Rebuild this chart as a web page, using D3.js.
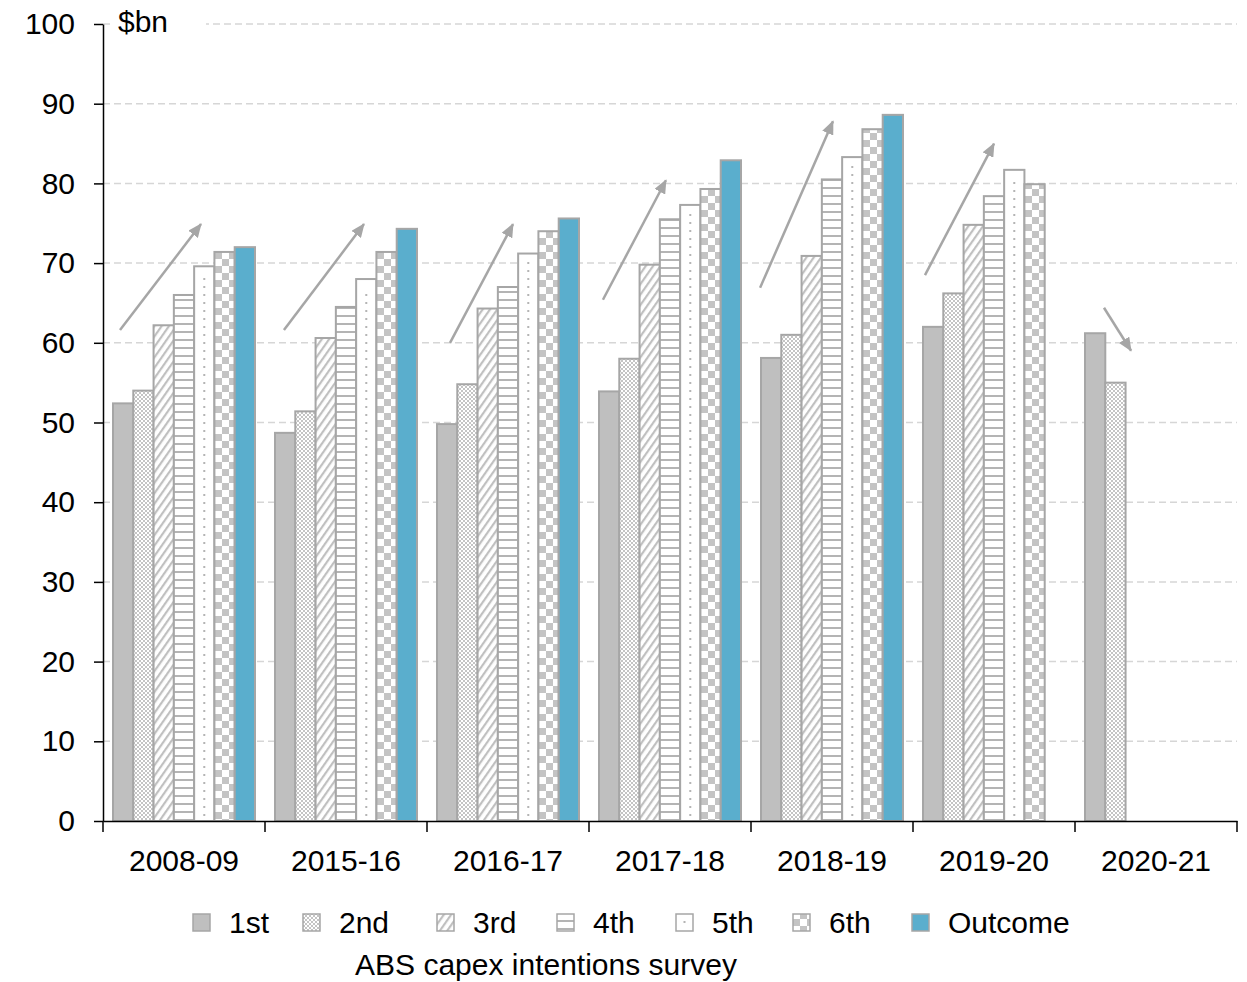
<!DOCTYPE html>
<html>
<head>
<meta charset="utf-8">
<script src="https://cdn.jsdelivr.net/npm/d3@7"></script>
<style>
  html, body { margin: 0; padding: 0; background: #fff; }
  svg { display: block; font-family: "Liberation Sans", Arial, sans-serif; }
</style>
</head>
<body>
<svg id="chart" width="1247" height="982"></svg>
<script>
// ---- Data ----
const categories = ["2008-09", "2015-16", "2016-17", "2017-18", "2018-19", "2019-20", "2020-21"];
const seriesNames = ["1st", "2nd", "3rd", "4th", "5th", "6th", "Outcome"];
const s1st     = [52.4, 48.7, 49.8, 53.9, 58.1, 62.0, 61.2];
const s2nd     = [54.0, 51.4, 54.8, 58.0, 61.0, 66.2, 55.0];
const s3rd     = [62.2, 60.6, 64.3, 69.8, 70.9, 74.8, null];
const s4th     = [66.0, 64.5, 67.0, 75.5, 80.5, 78.4, null];
const s5th     = [69.6, 68.0, 71.2, 77.3, 83.3, 81.7, null];
const s6th     = [71.4, 71.4, 74.0, 79.3, 86.8, 79.9, null];
const sOutcome = [72.0, 74.3, 75.6, 82.9, 88.6, null, null];
const yTicks = [0, 10, 20, 30, 40, 50, 60, 70, 80, 90, 100];
// Trend arrows: category, start/end position within band (fraction), start/end value
const arrowCat = ["2008-09", "2015-16", "2016-17", "2017-18", "2018-19", "2019-20", "2020-21"];
const arrowX0  = [0.105, 0.117, 0.142, 0.086, 0.056, 0.074, 0.179];
const arrowY0  = [61.6, 61.6, 60.0, 65.4, 66.9, 68.5, 64.4];
const arrowX1  = [0.605, 0.611, 0.531, 0.475, 0.506, 0.50, 0.346];
const arrowY1  = [74.9, 74.9, 74.9, 80.4, 87.8, 85.0, 59.0];
const unitLabel = "$bn";
const caption = "ABS capex intentions survey";

const seriesValues = [s1st, s2nd, s3rd, s4th, s5th, s6th, sOutcome];

// ---- Setup ----
const svg = d3.select("#chart");
const mLeft = 103, mRight = 1237, mTop = 24, mBottom = 821;
const x = d3.scaleBand().domain(categories).range([mLeft, mRight]).paddingInner(0).paddingOuter(0);
const xs = d3.scaleBand().domain(seriesNames).range([10, x.bandwidth() - 10]).padding(0);
const y = d3.scaleLinear().domain([0, 100]).range([mBottom, mTop]);

const GRAY = "#a6a6a6";
const defs = svg.append("defs");

// Patterns
function pat(id, w, h, build, transform) {
  const p = defs.append("pattern").attr("id", id).attr("patternUnits", "userSpaceOnUse")
    .attr("width", w).attr("height", h);
  if (transform) p.attr("patternTransform", transform);
  p.append("rect").attr("width", w).attr("height", h).attr("fill", "#fff");
  build(p);
}
pat("p2", 4, 4, p => {
  p.append("rect").attr("x", 0).attr("y", 0).attr("width", 2).attr("height", 2).attr("fill", "#c4c4c4");
  p.append("rect").attr("x", 2).attr("y", 2).attr("width", 2).attr("height", 2).attr("fill", "#c4c4c4");
});
pat("p3", 6, 6, p => {
  p.append("rect").attr("x", 0).attr("y", 0).attr("width", 2.2).attr("height", 6).attr("fill", "#c0c0c0");
}, "rotate(35)");
pat("p4", 10, 8, p => {
  p.append("rect").attr("x", 0).attr("y", 3).attr("width", 10).attr("height", 2).attr("fill", "#b4b4b4");
});
pat("p6", 14, 14, p => {
  p.append("rect").attr("x", 0).attr("y", 0).attr("width", 7).attr("height", 7).attr("fill", "#c4c4c4");
  p.append("rect").attr("x", 7).attr("y", 7).attr("width", 7).attr("height", 7).attr("fill", "#c4c4c4");
});
const fills = ["#bfbfbf", "url(#p2)", "url(#p3)", "url(#p4)", "#fff", "url(#p6)", "#5aaecd"];

// Gridlines
svg.append("g").selectAll("line").data(yTicks.filter(d => d > 0)).join("line")
  .attr("x1", mLeft).attr("x2", mRight)
  .attr("y1", d => y(d)).attr("y2", d => y(d))
  .attr("stroke", "#d6d6d6").attr("stroke-width", 1.5).attr("stroke-dasharray", "7,4");

// Bars
const groups = svg.append("g").selectAll("g").data(categories).join("g")
  .attr("transform", d => `translate(${x(d)},0)`);
groups.each(function(cat, ci) {
  const g = d3.select(this);
  seriesNames.forEach((s, si) => {
    const v = seriesValues[si][ci];
    if (v == null) return;
    const xx = xs(s);
    g.append("rect").attr("x", xx).attr("y", y(v)).attr("width", xs.bandwidth())
      .attr("height", y(0) - y(v)).attr("fill", fills[si])
      .attr("stroke", GRAY).attr("stroke-width", 2);
    if (si === 4) {
      // dotted pattern: a column of small dots mid-bar
      const n = Math.floor((y(0) - y(v) - 6) / 8);
      g.append("g").selectAll("rect").data(d3.range(n)).join("rect")
        .attr("x", xx + xs.bandwidth() / 2 - 1).attr("y", d => y(0) - 7 - d * 8)
        .attr("width", 2).attr("height", 2).attr("fill", "#b4b4b4");
    }
  });
});

// Arrows
defs.append("marker").attr("id", "arrow").attr("markerUnits", "userSpaceOnUse")
  .attr("viewBox", "0 0 14 12").attr("refX", 13).attr("refY", 6)
  .attr("markerWidth", 14).attr("markerHeight", 12).attr("orient", "auto")
  .append("path").attr("d", "M0,0 L14,6 L0,12 Z").attr("fill", GRAY);
svg.append("g").selectAll("line").data(arrowCat).join("line")
  .attr("x1", (d, i) => x(d) + arrowX0[i] * x.bandwidth())
  .attr("y1", (d, i) => y(arrowY0[i]))
  .attr("x2", (d, i) => x(d) + arrowX1[i] * x.bandwidth())
  .attr("y2", (d, i) => y(arrowY1[i]))
  .attr("stroke", GRAY).attr("stroke-width", 2.5)
  .attr("marker-end", "url(#arrow)");

// Y axis
const yAxis = svg.append("g").attr("transform", `translate(${mLeft},0)`)
  .call(d3.axisLeft(y).tickValues(yTicks).tickSize(9).tickPadding(19).tickSizeOuter(0));
yAxis.select(".domain").attr("stroke", "#000").attr("stroke-width", 1.5);
yAxis.selectAll(".tick line").attr("stroke", "#000").attr("stroke-width", 1.5);
yAxis.selectAll("text").attr("font-size", 30).attr("fill", "#000")
  .attr("font-family", "Liberation Sans, Arial, sans-serif");

// X axis line + ticks at band boundaries
const xAxis = svg.append("g").attr("transform", `translate(0,${mBottom})`)
  .call(d3.axisBottom(x).tickSize(0).tickPadding(40).tickSizeOuter(0));
xAxis.select(".domain").attr("stroke", "#000").attr("stroke-width", 1.5);
xAxis.selectAll("text").attr("font-size", 30).attr("fill", "#000")
  .attr("font-family", "Liberation Sans, Arial, sans-serif").attr("dy", "0.32em");
const bounds = categories.map(c => x(c)).concat([x(categories[categories.length - 1]) + x.bandwidth()]);
xAxis.append("g").selectAll("line").data(bounds).join("line")
  .attr("x1", d => d).attr("x2", d => d).attr("y1", 0).attr("y2", 11)
  .attr("stroke", "#000").attr("stroke-width", 1.5);

// Unit label with white background
svg.append("rect").attr("x", 111).attr("y", 8).attr("width", 95).attr("height", 34).attr("fill", "#fff");
svg.append("text").attr("x", 118).attr("y", 32).attr("font-size", 30).attr("fill", "#000").text(unitLabel);

// Legend (item positions as in the reference layout)
const legendX = [193, 303, 437, 557, 676, 793, 912];
const legend = svg.append("g");
const items = legend.selectAll("g").data(seriesNames).join("g")
  .attr("transform", (d, i) => `translate(${legendX[i]},933)`);
items.append("rect").attr("x", 0).attr("y", -19).attr("width", 17).attr("height", 17)
  .attr("fill", (d, i) => fills[i])
  .attr("stroke", GRAY).attr("stroke-width", 1.5);
items.filter((d, i) => i === 4).append("rect").attr("x", 7.5).attr("y", -12).attr("width", 2).attr("height", 2).attr("fill", "#b4b4b4");
items.append("text").attr("x", 36).attr("y", 0).attr("font-size", 30).attr("fill", "#000").text(d => d);

// Caption
svg.append("text").attr("x", 546).attr("y", 975).attr("text-anchor", "middle")
  .attr("font-size", 30).attr("fill", "#000").text(caption);
</script>
</body>
</html>
